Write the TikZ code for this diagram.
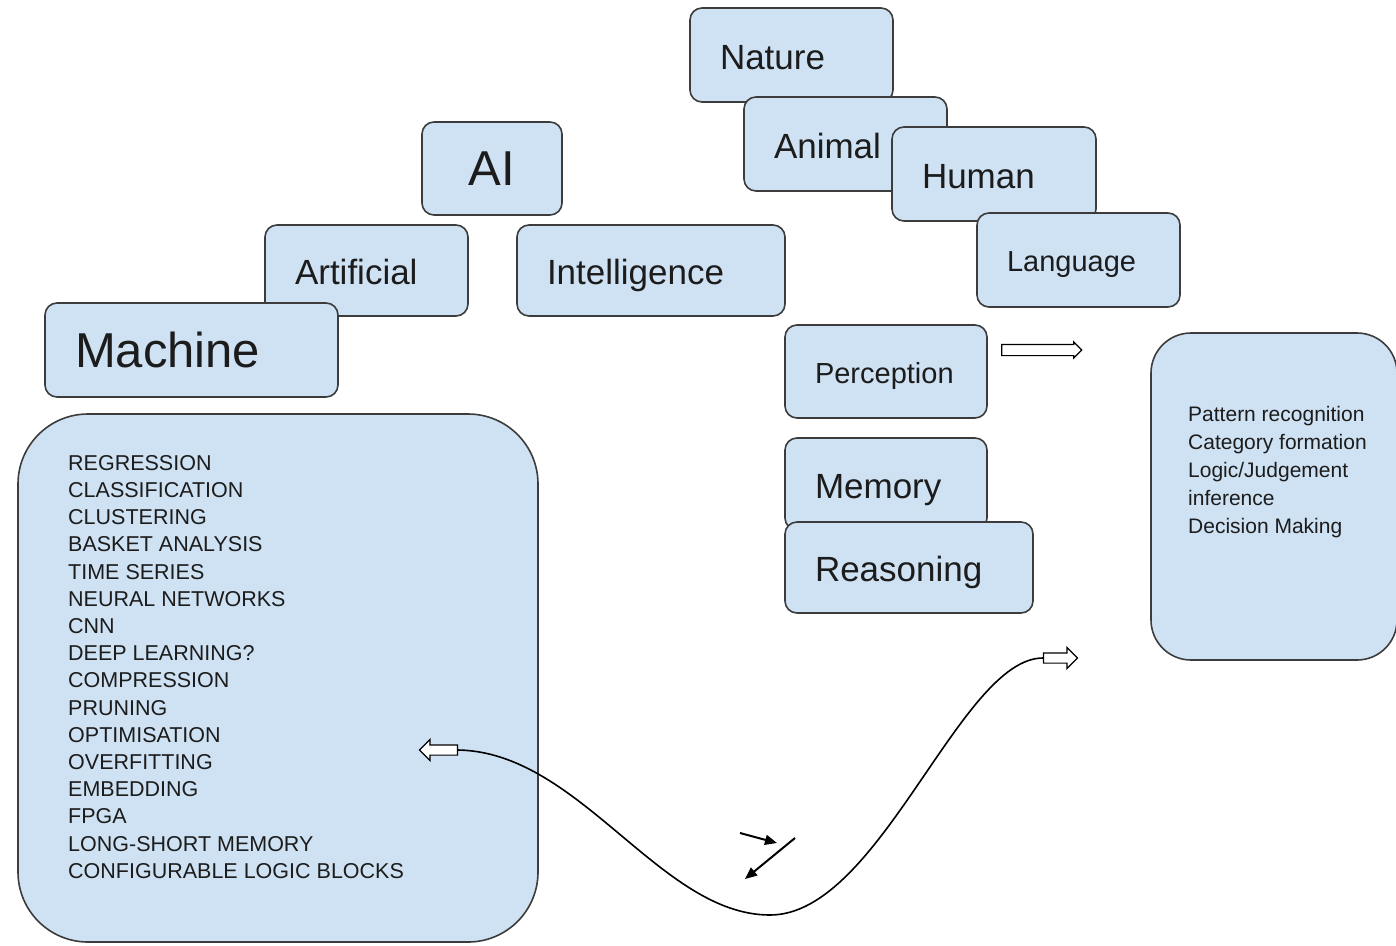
\documentclass[tikz,border=0pt]{standalone}
\usepackage{fontspec}
\setmainfont{Liberation Sans}
\usetikzlibrary{shapes.arrows,arrows.meta}
\definecolor{boxBlue}{RGB}{207,226,243}
\definecolor{lineGray}{RGB}{60,60,60}
\definecolor{txtGray}{RGB}{28,28,28}

\tikzset{
  blk/.style={draw=lineGray, fill=boxBlue, line width=1.6pt, rounded corners=12pt,
    inner xsep=30pt, inner ysep=0pt, align=left, text=txtGray},
  bigfont/.style={font=\fontsize{49}{54}\selectfont, text height=38pt, text depth=3.6pt},
  midfont/.style={font=\fontsize{35}{40}\selectfont, text height=31pt, text depth=3pt},
  smallfont/.style={font=\fontsize{29}{34}\selectfont, text height=26pt, text depth=2.2pt},
  listfont/.style={font=\fontsize{21.5}{27.2}\selectfont},
  hollow/.style={single arrow, draw=black, fill=white, line width=1.2pt,
    inner xsep=0pt, inner ysep=4.5pt, single arrow head extend=5.5pt, minimum height=#1},
}

\begin{document}
\begin{tikzpicture}[x=1pt, y=-1pt]
\useasboundingbox (0,0) rectangle (1396,945);

\node[blk, midfont, minimum width=203, minimum height=94, text width=143] (nature) at (791.5,55) {Nature};
\node[blk, midfont, minimum width=203, minimum height=94, text width=143] (animal) at (845.5,144) {Animal};
\node[blk, midfont, minimum width=204, minimum height=94, text width=144] (human) at (994,174) {Human};
\node[blk, smallfont, minimum width=203, minimum height=94, text width=143] (language) at (1078.5,260) {Language};

\node[blk, bigfont, align=center, minimum width=140, minimum height=93, text width=80] (ai) at (492,168.5) {AI};
\node[blk, midfont, minimum width=203, minimum height=91, text width=143] (artificial) at (366.5,270.5) {Artificial};
\node[blk, midfont, minimum width=268, minimum height=91, text width=208] (intelligence) at (651,270.5) {Intelligence};
\node[blk, bigfont, minimum width=293, minimum height=94, text width=233] (machine) at (191.5,350) {Machine};

\node[blk, smallfont, minimum width=202, minimum height=93, text width=142] (perception) at (886,371.5) {Perception};
\node[blk, midfont, minimum width=202, minimum height=92, text width=142] (memory) at (886,484) {Memory};
\node[blk, midfont, minimum width=248, minimum height=91, text width=188] (reasoning) at (909,567.5) {Reasoning};

% big boxes with their lists
\node[blk, rounded corners=70pt, minimum width=520, minimum height=528] (mlbox) at (278,678) {};
\node[listfont, text=txtGray, anchor=north west, align=left, inner sep=0pt] (mllist) at (68,455)
  {REGRESSION\\CLASSIFICATION\\CLUSTERING\\BASKET ANALYSIS\\TIME SERIES\\NEURAL NETWORKS\\CNN\\
   DEEP LEARNING?\\COMPRESSION\\PRUNING\\OPTIMISATION\\OVERFITTING\\EMBEDDING\\FPGA\\
   LONG-SHORT MEMORY\\CONFIGURABLE LOGIC BLOCKS};
\node[blk, rounded corners=40pt, minimum width=246, minimum height=327] (cogbox) at (1274,496.5) {};
\node[font=\fontsize{21}{28}\selectfont, text=txtGray, anchor=north west, align=left, inner sep=0pt] (coglist) at (1188,406)
  {Pattern recognition\\Category formation\\Logic/Judgement\\inference\\Decision Making};

\node[hollow=80, inner ysep=5pt, single arrow head extend=2.5pt] (percarrow) at (1039,350) {};
\node[hollow=38, shape border rotate=180] (leftarrow) at (441,750) {};
\node[hollow=34] (rightarrow) at (1058,658) {};
\draw[line width=1.6pt] (leftarrow.tail) .. controls (580,752) and (660,915) .. (770,915)
  .. controls (880,915) and (960,658) .. (rightarrow.tail);

\coordinate (sa1) at (740,833);
\coordinate (sa2) at (777,843);
\coordinate (sb1) at (795,838);
\coordinate (sb2) at (745,879);
\draw[line width=2pt, -{Triangle[length=12pt, width=10pt]}] (sa1) -- (sa2);
\draw[line width=2pt, -{Triangle[length=12pt, width=10pt]}] (sb1) -- (sb2);
\end{tikzpicture}
\end{document}
